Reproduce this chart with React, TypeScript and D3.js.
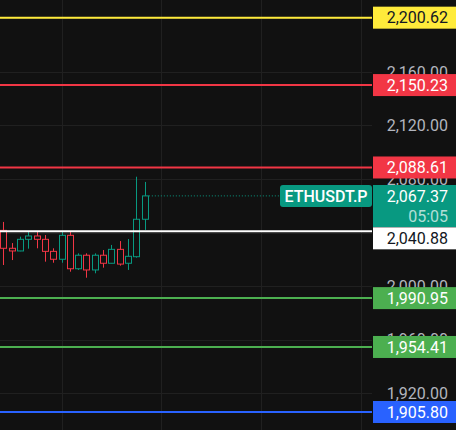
import React from "react";
import * as d3 from "d3";

const W = 456;
const H = 430;

// OHLC candles (oldest -> newest)
const opens = [2041.6, 2028.2, 2026.2, 2034.9, 2037.4, 2034.9, 2025.9, 2020.0, 2037.9, 2012.9, 2023.0, 2012.0, 2023.0, 2017.0, 2027.4, 2017.0, 2021.9, 2049.9];
const highs = [2047.9, 2032.1, 2036.9, 2041.1, 2040.6, 2038.1, 2028.2, 2041.1, 2040.6, 2024.4, 2024.4, 2024.4, 2026.9, 2030.7, 2033.6, 2035.1, 2081.7, 2077.8];
const lows = [2015.7, 2019.4, 2026.0, 2027.9, 2028.2, 2018.2, 2017.4, 2017.4, 2010.7, 2012.0, 2006.2, 2009.5, 2013.7, 2017.0, 2015.2, 2012.0, 2021.2, 2041.9];
const closes = [2028.2, 2026.2, 2034.9, 2037.4, 2034.9, 2025.9, 2020.0, 2037.9, 2012.9, 2023.0, 2012.0, 2023.0, 2017.0, 2027.4, 2016.4, 2022.2, 2049.9, 2067.37];

// Horizontal levels
const levelValues = [2200.62, 2150.23, 2088.61, 2040.88, 1990.95, 1954.41, 1905.8];
const levelColors = ["#ffeb3b", "#f23645", "#f23645", "#ffffff", "#4caf50", "#4caf50", "#2962ff"];
const levelTextColors = ["#131722", "#ffffff", "#ffffff", "#131722", "#ffffff", "#ffffff", "#ffffff"];
const levelLabelOffsets = [0, 0, 0, 7, 0, 0, 0];

// Axis grid and visible tick labels
const gridValues = [2200, 2160, 2120, 2080, 2040, 2000, 1960, 1920];
const tickLabelValues = [2160, 2120, 2080, 2000, 1960, 1920];
const timeGridIndices = [7, 19, 31, 43];

const symbol = "ETHUSDT.P";
const lastPrice = 2067.37;
const countdown = "05:05";

const UP = "#089981";
const DOWN = "#f23645";
const BG = "#111111";
const GRID = "#202020";
const FONT = "Roboto, 'Noto Sans', sans-serif";

export default function App() {
  const plotRight = 372;
  const y = d3.scaleLinear().domain([1920, 2160]).range([393, 72]);
  const x = d3.scaleLinear().domain([0, 17]).range([3.17, 144.83]);
  const fmt = d3.format(",.2f");
  const candles = opens.map((o, i) => ({ o, h: highs[i], l: lows[i], c: closes[i], i }));
  const lastX = x(candles.length - 1);
  const lastY = y(lastPrice);

  return (
    <svg
      width={W}
      height={H}
      style={{ position: "fixed", left: 0, top: 0, background: BG, display: "block" }}
    >
      <rect x={0} y={0} width={W} height={H} fill={BG} />
      {/* grid */}
      {gridValues.map((t) => (
        <line key={"hg" + t} x1={0} x2={plotRight} y1={Math.round(y(t)) + 0.5} y2={Math.round(y(t)) + 0.5} stroke={GRID} strokeWidth={1} />
      ))}
      {timeGridIndices.map((g) => (
        <line key={"vg" + g} x1={Math.round(x(g)) + 0.5} x2={Math.round(x(g)) + 0.5} y1={0} y2={H} stroke={GRID} strokeWidth={1} />
      ))}
      {/* last price dotted line */}
      <line x1={lastX + 4} x2={280} y1={lastY} y2={lastY} stroke={UP} strokeWidth={1} strokeDasharray="1 2" />
      {/* candles */}
      {candles.map((d) => {
        const col = d.c >= d.o ? UP : DOWN;
        const cx = Math.round(x(d.i)) + 0.5;
        const top = y(Math.max(d.o, d.c));
        const bot = y(Math.min(d.o, d.c));
        return (
          <g key={"c" + d.i}>
            <line x1={cx} x2={cx} y1={y(d.h)} y2={y(d.l)} stroke={col} strokeWidth={1} />
            <rect x={cx - 3} y={top} width={6} height={Math.max(1, bot - top)} fill={BG} stroke={col} strokeWidth={1} />
          </g>
        );
      })}
      {/* level lines */}
      {levelValues.map((v, i) => (
        <line key={"lv" + i} x1={0} x2={plotRight} y1={y(v)} y2={y(v)} stroke={levelColors[i]} strokeWidth={2} />
      ))}
      {/* axis tick labels */}
      {tickLabelValues.map((t) => (
        <text key={"tl" + t} x={448} y={y(t)} dy="0.36em" textAnchor="end" fill="#b2b5be" fontFamily={FONT} fontSize={16}>
          {fmt(t)}
        </text>
      ))}
      {/* level labels */}
      {levelValues.map((v, i) => {
        const cy = y(v) + levelLabelOffsets[i];
        return (
          <g key={"ll" + i}>
            <rect x={373} y={cy - 11} width={W - 373} height={22} fill={levelColors[i]} />
            <text x={448} y={cy} dy="0.36em" textAnchor="end" fill={levelTextColors[i]} fontFamily={FONT} fontSize={16}>
              {fmt(v)}
            </text>
          </g>
        );
      })}
      {/* current price label */}
      <rect x={373} y={185} width={W - 373} height={42} fill={UP} />
      <text x={448} y={lastY} dy="0.36em" textAnchor="end" fill="#ffffff" fontFamily={FONT} fontSize={16}>
        {fmt(lastPrice)}
      </text>
      <text x={448} y={lastY + 20} dy="0.36em" textAnchor="end" fill="rgba(255,255,255,0.7)" fontFamily={FONT} fontSize={16}>
        {countdown}
      </text>
      {/* symbol tag */}
      <rect x={280} y={185} width={92} height={22} rx={3} fill={UP} />
      <text x={326} y={196} dy="0.36em" textAnchor="middle" fill="#ffffff" fontFamily={FONT} fontSize={16} fontWeight={500}>
        {symbol}
      </text>
    </svg>
  );
}
